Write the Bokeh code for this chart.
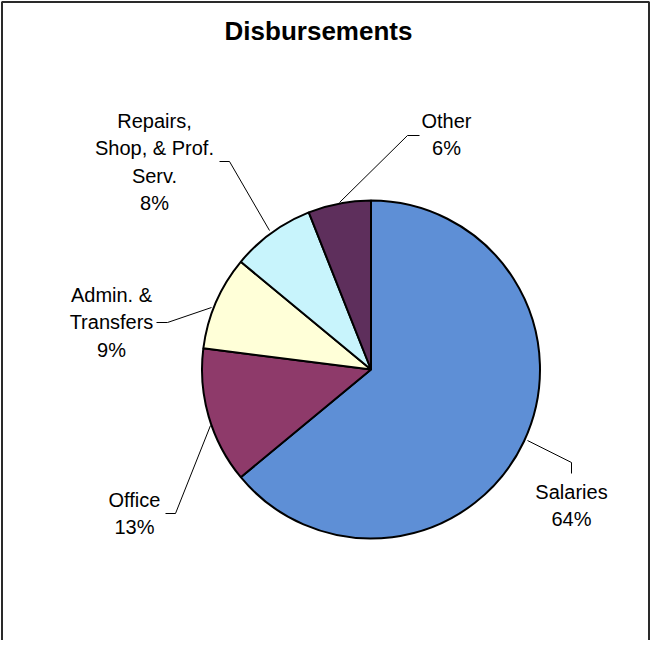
import numpy as np
from bokeh.plotting import figure
from bokeh.models import Range1d
from bokeh.core.properties import value
from bokeh.embed import file_html
from bokeh.resources import INLINE

# ---- data ----
categories = ["Salaries", "Office", "Admin. & Transfers", "Repairs, Shop, & Prof. Serv.", "Other"]
shares = [64, 13, 9, 8, 6]
label_lines = [["Salaries"], ["Office"], ["Admin. &", "Transfers"], ["Repairs,", "Shop, & Prof.", "Serv."], ["Other"]]
colors = ["#5E8FD6", "#8E3A6A", "#FFFFD8", "#C8F4FC", "#5E2F5C"]
title_text = "Disbursements"

# ---- layout (screen pixel coords of the page) ----
PAGE_H = 655
def Y(sy):
    return PAGE_H - sy

cx, cy, r = 378.5, 377, 169
label_pos = [(579, 499), (142, 507), (119, 302), (162, 128), (454, 128)]  # center x, first line y
line_step = 27.5
leaders = [
    [(535, 448), (579, 470), (579, 481)],
    [(218, 433), (183, 521), (173, 521)],
    [(219, 315), (175, 330), (164, 330)],
    [(277, 238), (237, 169), (227, 169)],
    [(347, 210), (415, 143), (427, 143)],
]
frame_border = [(9.5, 650), (9.5, 9.5), (656.5, 9.5), (656.5, 650)]

p = figure(width=650, height=640, output_backend="svg", toolbar_location=None,
           x_range=Range1d(8, 658), y_range=Range1d(Y(648), Y(8)), min_border=0)
p.axis.visible = False
p.grid.visible = False
p.outline_line_color = None
p.background_fill_color = "white"
p.border_fill_color = "white"

# chart-area border (left, top, right; bottom runs off the page as in the scan)
p.line(x=[pt[0] for pt in frame_border], y=[Y(pt[1]) for pt in frame_border],
       line_color="#2a2a2a", line_width=2)

fr = np.array(shares, dtype=float) / sum(shares)
cum = np.concatenate([[0.0], np.cumsum(fr)])
start = np.pi / 2 - cum[1:] * 2 * np.pi
end = np.pi / 2 - cum[:-1] * 2 * np.pi
p.wedge(x=cx, y=Y(cy), radius=r, start_angle=list(start), end_angle=list(end),
        fill_color=colors, line_color="black", line_width=2)

# leader lines
p.multi_line(xs=[[pt[0] for pt in L] for L in leaders],
             ys=[[Y(pt[1]) for pt in L] for L in leaders],
             line_color="black", line_width=1)

# labels
tx, ty, tt = [], [], []
for (lx, ly), lines, s in zip(label_pos, label_lines, shares):
    all_lines = lines + [f"{s}%"]
    for i, t in enumerate(all_lines):
        tx.append(lx)
        ty.append(Y(ly + i * line_step))
        tt.append(t)
p.text(x=tx, y=ty, text=tt, text_align="center", text_baseline="middle",
       text_font=value("Liberation Sans"), text_font_size="20px", text_color="black")

p.text(x=[326], y=[Y(38)], text=[title_text], text_align="center", text_baseline="middle",
       text_font=value("Liberation Sans"), text_font_size="26px", text_font_style="bold",
       text_color="black")

open("out.html", "w").write(file_html(p, INLINE))
